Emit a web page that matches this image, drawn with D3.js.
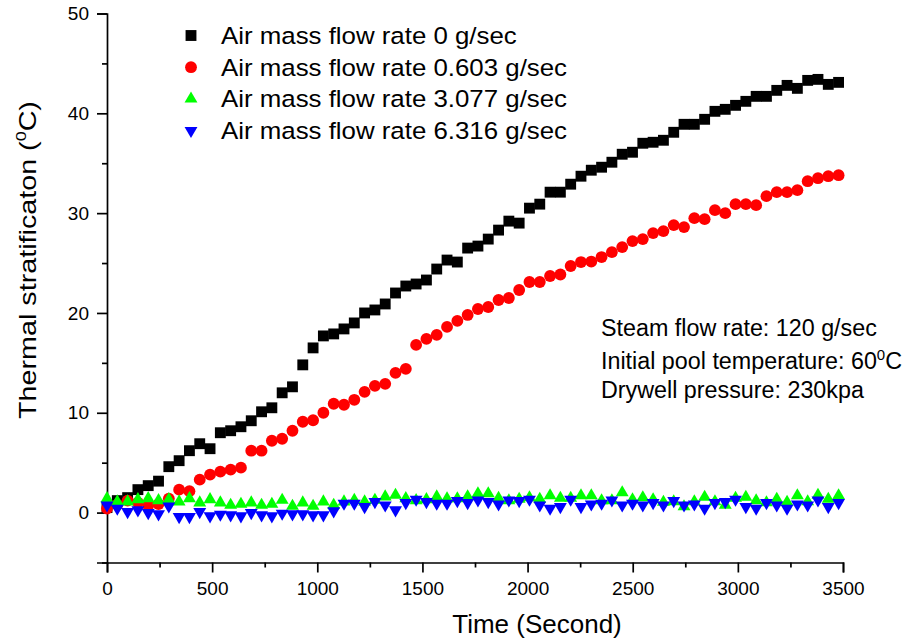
<!DOCTYPE html>
<html>
<meta charset="utf-8">

<head>
    <style>
        body {
            margin: 0;
            background: #fff;
        }

        text {
            font-family: "Liberation Sans", Arial, sans-serif;
            fill: #000;
        }

        .axis path,
        .axis line {
            fill: none;
            stroke: #000;
            stroke-width: 1.7px;
        }

        .axis text {
            font-size: 19px;
        }
    </style>
</head>

<body>
    <div id="chart"></div>
    <script src="https://d3js.org/d3.v7.min.js"></script>

    <script>
        // time of each sample (s)
        const times = [0, 49, 98, 147, 196, 245, 294, 343, 392, 441, 490, 539, 588, 637, 686, 735,
            784, 833, 882, 931, 980, 1029, 1078, 1127, 1176, 1225, 1274, 1323, 1372, 1421, 1470,
            1519, 1568, 1617, 1666, 1715, 1764, 1813, 1862, 1911, 1960, 2009, 2058, 2107, 2156,
            2205, 2254, 2303, 2352, 2401, 2450, 2499, 2548, 2597, 2646, 2695, 2744, 2793, 2842,
            2891, 2940, 2989, 3038, 3087, 3136, 3185, 3234, 3283, 3332, 3381, 3430, 3479];

        const air0 = [0.5, 1.2, 1.5, 2.3, 2.7, 3.15, 4.6, 5.2, 6.2, 6.9, 6.4, 8.0, 8.2, 8.6, 9.2, 10.1,
            10.5, 12.0, 12.6, 14.8, 16.5, 17.7, 17.9, 18.4, 19.0, 20.0, 20.3, 20.9, 22.0, 22.7, 22.9,
            23.3, 24.4, 25.3, 25.1, 26.5, 26.7, 27.4, 28.3, 29.2, 29.0, 30.5, 30.9, 32.1, 32.1, 32.9,
            33.7, 34.3, 34.6, 35.1, 35.9, 36.1, 37.0, 37.1, 37.3, 38.1, 38.9, 38.9, 39.4, 40.2, 40.4,
            40.8, 41.2, 41.7, 41.7, 42.3, 42.8, 42.5, 43.3, 43.4, 42.9, 43.1];

        const air0603 = [0.4, 0.8, 1.2, 1.0, 0.7, 0.85, 1.4, 2.3, 2.15, 3.3, 3.8, 4.1, 4.3, 4.5, 6.2, 6.2,
            7.2, 7.4, 8.2, 9.1, 9.25, 10.0, 10.9, 10.8, 11.3, 12.1, 12.7, 12.9, 14.0, 14.4, 16.8,
            17.4, 17.8, 18.6, 19.2, 19.8, 20.4, 20.6, 21.3, 21.5, 22.3, 23.1, 23.1, 23.7, 23.85, 24.7,
            25.1, 25.15, 25.6, 26.1, 26.6, 27.2, 27.4, 28.0, 28.2, 28.8, 28.6, 29.5, 29.4, 30.3, 30.0,
            30.9, 30.9, 30.8, 31.7, 32.1, 32.1, 32.3, 33.2, 33.5, 33.7, 33.8];

        const air3077 = [1.42, 1.09, 1.09, 1.32, 1.42, 1.22, 1.32, 1.09, 1.42, 0.98, 1.32, 0.98, 0.75, 0.85,
            0.98, 0.75, 0.85, 1.25, 0.65, 0.98, 0.65, 1.09, 0.75, 1.09, 1.25, 1.09, 1.25, 1.59, 1.75,
            1.42, 1.22, 1.32, 1.59, 1.4, 1.4, 1.6, 1.9, 1.9, 1.45, 1.2, 1.35, 1.5, 1.35, 1.7, 1.45,
            1.45, 1.7, 1.7, 1.2, 1.2, 2.0, 1.3, 1.5, 1.3, 1.05, 1.1, 0.6, 1.1, 1.55, 1.1, 0.75, 1.45,
            1.55, 1.2, 1.0, 1.35, 1.05, 1.7, 1.1, 1.75, 1.35, 1.7];

        const air6316 = [0.75, 0.42, 0.08, 0.25, -0.02, -0.15, 0.65, -0.42, -0.42, 0.08, -0.35, -0.18,
            -0.25, -0.35, -0.02, -0.25, -0.35, -0.08, -0.15, -0.15, -0.25, -0.25, 0.15, 0.92, 0.92,
            0.58, 1.09, 0.75, 0.25, 0.98, 1.32, 1.09, 0.92, 0.92, 1.19, 0.98, 1.25, 1.09, 0.85, 1.25,
            1.19, 1.32, 0.75, 0.42, 0.58, 1.32, 0.58, 0.85, 0.92, 1.25, 0.75, 0.92, 0.75, 0.98, 0.75,
            1.19, 0.75, 0.85, 0.42, 0.98, 1.09, 1.32, 0.58, 0.42, 0.98, 0.75, 0.42, 0.85, 0.75, 1.25,
            0.58, 0.98];

        const seriesNames = ["Air mass flow rate 0 g/sec", "Air mass flow rate 0.603 g/sec",
            "Air mass flow rate 3.077 g/sec", "Air mass flow rate 6.316 g/sec"];
        const seriesValues = [air0, air0603, air3077, air6316];
        const seriesColors = ["#000000", "#ff0000", "#00ff00", "#0000ff"];

        const xTicks = [0, 500, 1000, 1500, 2000, 2500, 3000, 3500];
        const xMinorTicks = [250, 750, 1250, 1750, 2250, 2750, 3250];
        const yTicks = [0, 10, 20, 30, 40, 50];
        const yMinorTicks = [-5, 5, 15, 25, 35, 45];

        const notes = ["Steam flow rate: 120 g/sec", "Initial pool temperature: 60", "Drywell pressure: 230kpa"];

        // canvas
        var margin = { top: 13.5, right: 62, bottom: 77.5, left: 107 },
            width = 905 - margin.left - margin.right,
            height = 640 - margin.top - margin.bottom;

        var x = d3.scaleLinear().domain([0, 3500]).range([0, width]);
        var y = d3.scaleLinear().domain([-5, 50]).range([height, 0]);

        var svg = d3.select("#chart")
            .append("svg")
            .attr("width", 905)
            .attr("height", 640)
            .append("g")
            .attr("transform", "translate(" + margin.left + "," + margin.top + ")");

        // marker shapes (square, circle, up and down triangle)
        var shapes = [
            d3.symbol().type(d3.symbolSquare).size(118),
            d3.symbol().type(d3.symbolCircle).size(110),
            d3.symbol().type(d3.symbolTriangle).size(72),
            d3.symbol().type(d3.symbolTriangle).size(72)
        ];
        var rot = [0, 0, 0, 180];

        // axes: minor ticks first, then major ones
        svg.append("g")
            .attr("class", "axis")
            .attr("transform", "translate(0," + height + ")")
            .call(d3.axisBottom(x).tickValues(xMinorTicks).tickSize(5).tickFormat(""))
            .select(".domain").remove();

        svg.append("g")
            .attr("class", "axis")
            .attr("transform", "translate(0," + height + ")")
            .call(d3.axisBottom(x).tickValues(xTicks).tickSizeOuter(0).tickSize(10).tickPadding(9).tickFormat(d3.format("d")));

        svg.append("g")
            .attr("class", "axis")
            .call(d3.axisLeft(y).tickValues(yMinorTicks).tickSize(5).tickFormat(""))
            .select(".domain").remove();

        svg.append("g")
            .attr("class", "axis")
            .call(d3.axisLeft(y).tickValues(yTicks).tickSizeOuter(0).tickSize(10).tickPadding(8).tickFormat(d3.format("d")));

        // points
        seriesValues.forEach(function (vals, k) {
            svg.append("g")
                .selectAll("path")
                .data(vals)
                .join("path")
                .attr("d", shapes[k])
                .attr("fill", seriesColors[k])
                .attr("transform", function (d, i) {
                    return "translate(" + x(times[i]) + "," + y(d) + ") rotate(" + rot[k] + ")";
                });
        });

        // legend
        var legend = svg.append("g")
            .attr("transform", "translate(84,22)");

        var rows = legend.selectAll("g")
            .data(seriesNames)
            .join("g")
            .attr("transform", function (d, i) { return "translate(0," + (i * 31.7) + ")"; });

        rows.append("path")
            .attr("d", function (d, i) { return shapes[i](); })
            .attr("fill", function (d, i) { return seriesColors[i]; })
            .attr("transform", function (d, i) { return "rotate(" + rot[i] + ")"; });

        // the legend lettering is a bit wider than plain Arial
        rows.append("text")
            .attr("transform", "translate(30,0) scale(1.1,1)")
            .attr("dy", "0.36em")
            .style("font-size", "23.5px")
            .text(function (d) { return d; });

        // test conditions
        var note = svg.append("g")
            .attr("transform", "translate(494,0)")
            .style("font-size", "23.3px");

        note.append("text").attr("y", 322.5).text(notes[0]);
        var n2 = note.append("text").attr("y", 355.5).text(notes[1]);
        n2.append("tspan").attr("dy", -9).style("font-size", "15px").text("0");
        n2.append("tspan").attr("dy", 9).text("C");
        note.append("text").attr("y", 384).text(notes[2]);

        // axis titles
        svg.append("text")
            .attr("x", 430)
            .attr("y", height + 70)
            .attr("text-anchor", "middle")
            .style("font-size", "26px")
            .text("Time (Second)");

        var yt = svg.append("text")
            .attr("text-anchor", "middle")
            .style("font-size", "24px")
            .text("Thermal stratificaton (");
        yt.append("tspan").attr("dy", -10).style("font-size", "15px").text("0");
        yt.append("tspan").attr("dy", 10).text("C)");

        // stretch the y title along its length to the reference span
        var ytLen = yt.node().getComputedTextLength();
        yt.attr("transform", "translate(-71," + (260 - margin.top) + ") rotate(-90) scale(" + (318 / ytLen) + ",1)");
    </script>

</body>

</html>
